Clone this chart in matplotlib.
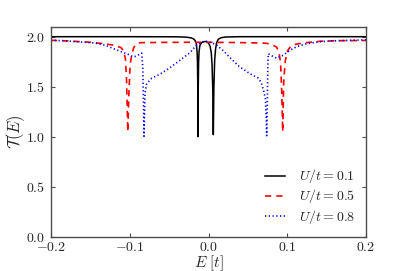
import matplotlib
matplotlib.use("Agg")
import matplotlib.pyplot as plt

# Transmission curves (E in units of t)
labels = [r"$U/t = 0.1$", r"$U/t = 0.5$", r"$U/t = 0.8$"]

E_u01 = [-0.200, -0.100, -0.040, -0.028, -0.022, -0.019, -0.017, -0.0155, -0.0145,
         -0.0140, -0.0136, -0.0133, -0.0130, -0.0126, -0.0120, -0.0110, -0.0090,
         -0.0060, -0.0040, -0.0020, 0.0000, 0.0020, 0.0035, 0.0045, 0.0054, 0.0061,
         0.0068, 0.0078, 0.0090, 0.0105, 0.0125, 0.0160, 0.0220, 0.0400, 0.2000]
T_u01 = [2.000, 2.000, 1.999, 1.995, 1.988, 1.978, 1.962, 1.930, 1.850,
         1.740, 1.500, 1.000, 1.500, 1.740, 1.850, 1.910, 1.940,
         1.950, 1.952, 1.948, 1.935, 1.905, 1.840, 1.720, 1.480, 1.020,
         1.480, 1.760, 1.880, 1.945, 1.975, 1.990, 1.997, 2.000, 2.000]

E_u05 = [-0.200, -0.175, -0.150, -0.133, -0.119, -0.111, -0.108, -0.1055, -0.1040,
         -0.1025, -0.1010, -0.0995, -0.0975, -0.0950, -0.0920, -0.0870, -0.060,
         -0.030, 0.000, 0.030, 0.060, 0.074, 0.082, 0.0866, 0.0895, 0.0915, 0.0930,
         0.0942, 0.0955, 0.0975, 0.1005, 0.1040, 0.1080, 0.1200, 0.1416, 0.1630, 0.200]
T_u05 = [1.964, 1.956, 1.944, 1.930, 1.914, 1.890, 1.860, 1.780, 1.550,
         1.050, 1.450, 1.720, 1.820, 1.890, 1.925, 1.940, 1.943,
         1.944, 1.944, 1.942, 1.938, 1.934, 1.915, 1.895, 1.840, 1.740, 1.450,
         1.050, 1.550, 1.760, 1.860, 1.900, 1.920, 1.937, 1.954, 1.960, 1.962]

E_u08 = [-0.200, -0.180, -0.165, -0.145, -0.131, -0.123, -0.112, -0.104, -0.099,
         -0.0955, -0.092, -0.0875, -0.0848, -0.0835, -0.0825, -0.0819, -0.0812,
         -0.0806, -0.0785, -0.0721, -0.0616, -0.0489, -0.0362, -0.0235, -0.0171,
         -0.0086, -0.0040, 0.0000, 0.0040, 0.0104, 0.0188, 0.0273, 0.0378, 0.0450,
         0.0527, 0.0632, 0.0670, 0.0700, 0.0722, 0.0732, 0.0739, 0.0746, 0.0753,
         0.0759, 0.0800, 0.0866, 0.0950, 0.1035, 0.1120, 0.1247, 0.1416, 0.1628, 0.2000]
T_u08 = [1.965, 1.958, 1.948, 1.938, 1.914, 1.888, 1.853, 1.830, 1.812,
         1.798, 1.805, 1.825, 1.835, 1.700, 1.300, 1.005, 1.250,
         1.440, 1.530, 1.585, 1.625, 1.690, 1.765, 1.840, 1.900,
         1.945, 1.955, 1.950, 1.940, 1.915, 1.860, 1.790, 1.710, 1.670,
         1.630, 1.585, 1.540, 1.460, 1.380, 1.200, 1.010, 1.300, 1.700,
         1.830, 1.810, 1.785, 1.815, 1.865, 1.900, 1.930, 1.950, 1.960, 1.968]

x_ticks = [-0.2, -0.1, 0.0, 0.1, 0.2]
y_ticks = [0.0, 0.5, 1.0, 1.5, 2.0]

# Computer Modern look
plt.rcParams["font.family"] = "serif"
plt.rcParams["font.serif"] = ["cmr10"]
plt.rcParams["mathtext.fontset"] = "cm"
plt.rcParams["axes.formatter.use_mathtext"] = True
plt.rcParams["axes.unicode_minus"] = True
plt.rcParams["lines.scale_dashes"] = False

edge = "0.3"
text_col = "0.15"

fig = plt.figure(figsize=(4.07, 2.71), dpi=100)
ax = fig.add_axes([0.1253, 0.1266, 0.7740, 0.7749])

ax.plot(E_u01, T_u01, color="k", lw=1.1, label=labels[0])
ax.plot(E_u05, T_u05, color="r", lw=1.2, dashes=(4.5, 3.6), label=labels[1])
ax.plot(E_u08, T_u08, color="b", lw=1.2, dashes=(0.9, 1.8), label=labels[2])

ax.set_xlim(-0.2, 0.2)
ax.set_ylim(0, 2.1)
ax.set_xticks(x_ticks)
ax.set_yticks(y_ticks)

for s in ax.spines.values():
  s.set_color(edge)
  s.set_linewidth(1.0)

ax.tick_params(which="both", direction="in", top=True, right=True, length=3,
               width=0.8, color=edge, labelsize=10, labelcolor=text_col)
ax.tick_params(axis="x", pad=3)
ax.tick_params(axis="y", pad=4)

ax.set_xlabel(r"$E\ [t]$", fontsize=11, color=text_col)
ax.set_ylabel(r"$\mathcal{T}(E)$", fontsize=12, color=text_col)
ax.xaxis.set_label_coords(0.5, -0.08)
ax.yaxis.set_label_coords(-0.076, 0.5)

leg = ax.legend(loc="lower right", frameon=False, fontsize=10, handlelength=1.4,
                handletextpad=1.0, labelspacing=0.15, borderaxespad=0.4)
for t in leg.get_texts():
  t.set_color(text_col)

fig.savefig("out.png", dpi=100)
